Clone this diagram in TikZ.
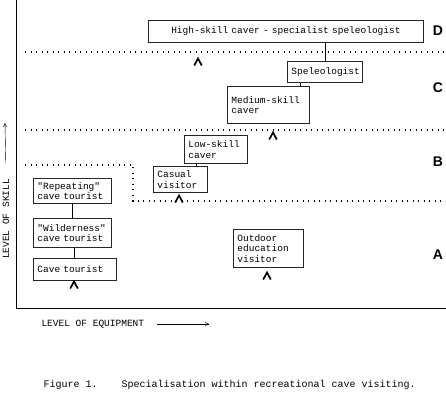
\documentclass[tikz,border=0pt]{standalone}
\usepackage{fontspec}
\setmonofont{Liberation Mono}
\setsansfont{Liberation Sans}
\usepackage{tikz}
\usetikzlibrary{arrows.meta}

\begin{document}
\begin{tikzpicture}[
    x=1pt,y=-1pt,>={To[length=4pt,width=4.5pt]},
    font=\ttfamily\fontsize{9.5}{10.5}\selectfont,
    group/.style={draw=black!85,line width=0.8pt,align=left,inner xsep=4pt,inner ysep=0pt,anchor=north west},
    band/.style={line width=1.1pt,dash pattern=on 1.1pt off 4.4pt},
    caret/.style={line width=1.7pt,line join=miter},
    level/.style={font=\sffamily\bfseries\fontsize{14}{14}\selectfont},
    axis/.style={line width=0.8pt}
]
\useasboundingbox (0,0) rectangle (446,400);
% Axes.
\draw[axis] (16,0) -- (16,308) -- (446,308);
% Skill bands, dotted.
\draw[band] (25,52) -- (446,52);
\draw[band] (25,130) -- (446,130);
\draw[band] (25,165) -- (133,165) -- (133,201) -- (446,201);
\node[level] (bandD) at (438,31) {D};
\node[level] (bandC) at (438,88) {C};
\node[level] (bandB) at (438,162) {B};
\node[level] (bandA) at (438,255) {A};
% Visitor groups.
\node[group,align=center,text width=267pt,minimum height=22pt] (hsc) at (148,20)
    {High-skill caver - specialist speleologist};
\node[group,align=center,text width=67pt,minimum height=21pt] (spel) at (287,61) {Speleologist};
\node[group,text width=74pt,minimum height=37pt] (msc) at (227,86) {Medium-skill\\caver};
\node[group,text width=55pt,minimum height=28pt] (lsc) at (184,135) {Low-skill\\caver};
\node[group,text width=46pt,minimum height=26pt] (casual) at (153,166) {Casual\\visitor};
\node[group,text width=70pt,minimum height=25pt] (rept) at (33,178) {"Repeating"\\cave tourist};
\node[group,text width=70pt,minimum height=29pt] (wild) at (33,218) {"Wilderness"\\cave tourist};
\node[group,text width=75pt,minimum height=22pt] (tour) at (33,258) {Cave tourist};
\node[group,text width=62pt,minimum height=38pt] (outdoor) at (233,229) {Outdoor\\education\\visitor};
% Links between groups.
\draw[axis] (spel.north) -- (spel.north |- hsc.south);
\draw[axis] ([xshift=13pt]spel.south west) -- ([xshift=13pt]spel.south west |- msc.north);
\draw[axis] ([xshift=12pt]lsc.south west) -- ([xshift=12pt]lsc.south west |- casual.north);
\draw[axis] (rept.south) -- (rept.south |- wild.north);
\draw[axis] ([xshift=2pt]wild.south) -- ([xshift=2pt]wild.south |- tour.north);
% Entry marks.
\foreach \cx/\cy in {198/62,273/136,179/199,267/276,74/285}
    \draw[caret] (\cx,\cy) ++(-3.8,3.5) -- ++(3.8,-7) -- ++(3.8,7);
% Axis labels.
\node[rotate=90] (skill) at (6,219) {LEVEL OF SKILL};
\coordinate (skilltip) at (5,123);
\draw[->,shorten <=13pt] (skill.east) -- (skilltip);
\node[anchor=west] (equip) at (38,324) {LEVEL OF EQUIPMENT};
\coordinate (equiptip) at (209,324);
\draw[->,shorten <=9pt] (equip.east) -- (equiptip);
% Caption.
\node[anchor=west,font=\ttfamily\fontsize{10}{11}\selectfont] (fig) at (40,385) {Figure 1.};
\node[anchor=west,font=\ttfamily\fontsize{10}{11}\selectfont] (caption) at (118,385)
    {Specialisation within recreational cave visiting.};
\end{tikzpicture}
\end{document}
